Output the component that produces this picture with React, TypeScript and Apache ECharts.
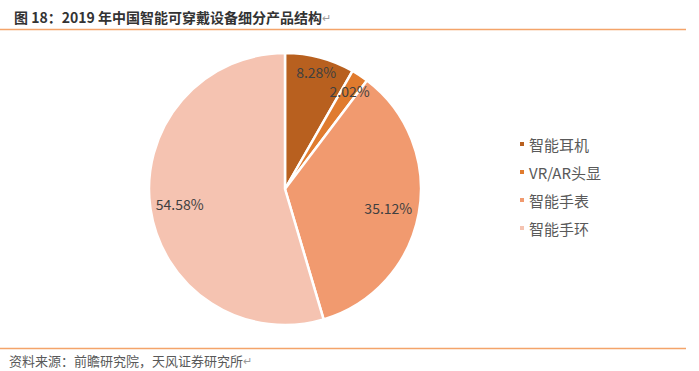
import React, { useEffect, useRef } from "react";
import * as echarts from "echarts";

const titleText = "图 18：2019 年中国智能可穿戴设备细分产品结构";
const sourceText = "资料来源：前瞻研究院，天风证券研究所";
const categories = ["智能耳机", "VR/AR头显", "智能手表", "智能手环"];
const shares = [8.28, 2.02, 35.12, 54.58];
const colors = ["#B8601F", "#E07B2E", "#F19A6F", "#F5C3B1"];

const CX = 285;
const CY = 189;
const R = 136;
const labelRadiusFrac = [0.87, 0.84, 0.75, 0.76];

export default function App() {
  const ref = useRef<HTMLDivElement>(null);
  useEffect(() => {
    if (!ref.current) return;
    const chart = echarts.init(ref.current, null, { renderer: "svg" });
    const total = shares.reduce((a, b) => a + b, 0);
    const mids: number[] = [];
    let cum = 0;
    shares.forEach((v) => {
      mids.push(((cum + v / 2) / total) * Math.PI * 2);
      cum += v;
    });
    const font = "'Noto Sans CJK SC', 'Noto Sans', sans-serif";
    chart.setOption({
      animation: false,
      backgroundColor: "#ffffff",
      color: colors,
      title: [
        {
          text: titleText + "{m|↵}",
          left: 9,
          top: 5,
          textStyle: {
            fontSize: 14,
            fontWeight: "bold",
            color: "#333333",
            fontFamily: font,
            rich: { m: { fontSize: 11, color: "#9a9a9a", fontWeight: "normal", fontFamily: font } },
          },
        },
      ],
      graphic: [
        {
          type: "line",
          shape: { x1: 0, y1: 29.5, x2: 686, y2: 29.5 },
          style: { stroke: "#F4A46A", lineWidth: 1.5 },
          silent: true,
        },
        {
          type: "line",
          shape: { x1: 0, y1: 348.5, x2: 686, y2: 348.5 },
          style: { stroke: "#F4A46A", lineWidth: 1.5 },
          silent: true,
        },
        {
          type: "text",
          x: 9,
          y: 360,
          silent: true,
          style: {
            text: sourceText + "{m|↵}",
            fontSize: 13,
            fill: "#595959",
            fontFamily: font,
            verticalAlign: "middle",
            align: "left",
            rich: { m: { fontSize: 11, fill: "#9a9a9a", fontFamily: font } },
          },
        },
      ],
      legend: {
        orient: "vertical",
        left: 513,
        top: 131,
        icon: "rect",
        itemWidth: 6,
        itemHeight: 6,
        itemGap: 12,
        data: categories,
        textStyle: { fontSize: 15, color: "#595959", fontFamily: font, lineHeight: 16, padding: [0, 0, 0, -1] },
      },
      series: [
        {
          type: "pie",
          center: [CX, CY],
          radius: R,
          startAngle: 90,
          clockwise: true,
          avoidLabelOverlap: false,
          itemStyle: { borderColor: "#ffffff", borderWidth: 2.5 },
          label: {
            show: true,
            position: "inside",
            formatter: (p: any) => shares[p.dataIndex].toFixed(2) + "%",
            fontSize: 14,
            color: "#404040",
            fontFamily: font,
          },
          labelLayout: (p: any) => {
            const i = p.dataIndex;
            const d = labelRadiusFrac[i] * R - R / 2;
            return { dx: d * Math.sin(mids[i]), dy: -d * Math.cos(mids[i]) };
          },
          emphasis: { disabled: true },
          data: categories.map((name, i) => ({ name, value: shares[i] })),
        },
      ],
    });
    return () => chart.dispose();
  }, []);
  return <div ref={ref} style={{ position: "fixed", left: 0, top: 0, width: 699, height: 371 }} />;
}
